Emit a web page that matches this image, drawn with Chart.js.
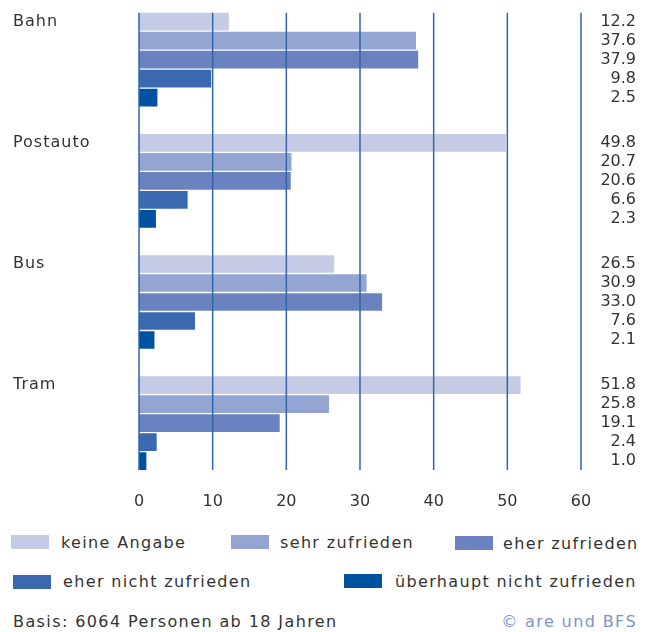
<!DOCTYPE html>
<html>
<head>
<meta charset="utf-8">
<script src="https://cdn.jsdelivr.net/npm/chart.js@4.4.0/dist/chart.umd.min.js"></script>
<style>
  body { margin: 0; background: #fff; width: 648px; height: 632px; position: relative; overflow: hidden;
         font-family: "DejaVu Sans", sans-serif; color: #333; }
  #chart { position: absolute; left: 0; top: -1px; }
  .sw { position: absolute; width: 38px; height: 14px; }
  .lt { position: absolute; font-size: 16px; line-height: 20px; letter-spacing: 1.35px; white-space: nowrap; }
  .foot { position: absolute; font-size: 16px; line-height: 20px; letter-spacing: 1.4px; white-space: nowrap; top: 612px; }
</style>
</head>
<body>
<canvas id="chart" width="648" height="520"></canvas>
<div id="legend"></div>
<div class="foot" style="left:13px">Basis: 6064 Personen ab 18 Jahren</div>
<div class="foot" style="right:11px;color:#7b93cc">© are und BFS</div>
<script>
const categories = ["Bahn", "Postauto", "Bus", "Tram"];
const seriesNames = ["keine Angabe", "sehr zufrieden", "eher zufrieden", "eher nicht zufrieden", "überhaupt nicht zufrieden"];
const keineAngabe = [12.2, 49.8, 26.5, 51.8];
const sehrZufrieden = [37.6, 20.7, 30.9, 25.8];
const eherZufrieden = [37.9, 20.6, 33.0, 19.1];
const eherNichtZufrieden = [9.8, 6.6, 7.6, 2.4];
const ueberhauptNicht = [2.5, 2.3, 2.1, 1.0];
const xTicks = [0, 10, 20, 30, 40, 50, 60];

const colors = ["#c5cae5", "#95a5d1", "#6a83c0", "#3a69b0", "#00519f"];
const seriesValues = [keineAngabe, sehrZufrieden, eherZufrieden, eherNichtZufrieden, ueberhauptNicht];
const textColor = "#333";
const font = '"DejaVu Sans", sans-serif';

// legend below the plot: three entries on the first row, two on the second
const legendSlots = [
  { sw: [11, 535], tx: [61, 533] },
  { sw: [231, 535], tx: [280, 533] },
  { sw: [455, 536], tx: [503, 534] },
  { sw: [13, 575], tx: [63, 572] },
  { sw: [344, 574], tx: [395, 572] }
];
const legendEl = document.getElementById("legend");
seriesNames.forEach((name, i) => {
  const s = legendSlots[i];
  const sw = document.createElement("div");
  sw.className = "sw";
  sw.style.left = s.sw[0] + "px";
  sw.style.top = s.sw[1] + "px";
  sw.style.background = colors[i];
  const t = document.createElement("div");
  t.className = "lt";
  t.style.left = s.tx[0] + "px";
  t.style.top = s.tx[1] + "px";
  t.textContent = name;
  legendEl.appendChild(sw);
  legendEl.appendChild(t);
});

// vertical grid lines over the bars, limited to the bar block
const gridOverBars = {
  id: "gridOverBars",
  afterDatasetsDraw(chart) {
    const { ctx, scales } = chart;
    const first = chart.getDatasetMeta(0).data[0];
    const lastMeta = chart.getDatasetMeta(seriesValues.length - 1);
    const last = lastMeta.data[lastMeta.data.length - 1];
    const top = first.y - first.height / 2;
    const bottom = last.y + last.height / 2;
    ctx.save();
    ctx.strokeStyle = "#2f65ad";
    ctx.lineWidth = 1.5;
    xTicks.forEach((v) => {
      const x = scales.x.getPixelForValue(v);
      ctx.beginPath();
      ctx.moveTo(x, top);
      ctx.lineTo(x, bottom);
      ctx.stroke();
    });
    ctx.restore();
  }
};

// category names at the left of each group, value column at the right
const sideLabels = {
  id: "sideLabels",
  afterDraw(chart) {
    const { ctx } = chart;
    ctx.save();
    ctx.fillStyle = textColor;
    ctx.font = "16px " + font;
    ctx.textBaseline = "middle";
    ctx.letterSpacing = "1px";
    ctx.textAlign = "left";
    const meta0 = chart.getDatasetMeta(0);
    categories.forEach((c, i) => {
      ctx.fillText(c, 13, meta0.data[i].y);
    });
    ctx.letterSpacing = "0px";
    ctx.textAlign = "right";
    seriesValues.forEach((vals, d) => {
      const meta = chart.getDatasetMeta(d);
      vals.forEach((v, i) => {
        ctx.fillText(v.toFixed(1), 636, meta.data[i].y);
      });
    });
    ctx.restore();
  }
};

new Chart(document.getElementById("chart"), {
  type: "bar",
  data: {
    labels: categories,
    datasets: seriesNames.map((name, i) => ({
      label: name,
      data: seriesValues[i],
      backgroundColor: colors[i],
      borderWidth: 0,
      categoryPercentage: 0.784,
      barPercentage: 0.93
    }))
  },
  options: {
    indexAxis: "y",
    responsive: false,
    animation: false,
    layout: { padding: { left: 139, right: 67, top: 0, bottom: 0 } },
    plugins: { legend: { display: false }, tooltip: { enabled: false } },
    scales: {
      y: { display: false },
      x: {
        min: 0,
        max: 60,
        afterBuildTicks: (axis) => { axis.ticks = xTicks.map((v) => ({ value: v })); },
        ticks: { color: textColor, font: { family: font, size: 16 }, padding: 8 },
        grid: { display: false, drawTicks: false },
        border: { display: false }
      }
    }
  },
  plugins: [gridOverBars, sideLabels]
});
</script>
</body>
</html>
